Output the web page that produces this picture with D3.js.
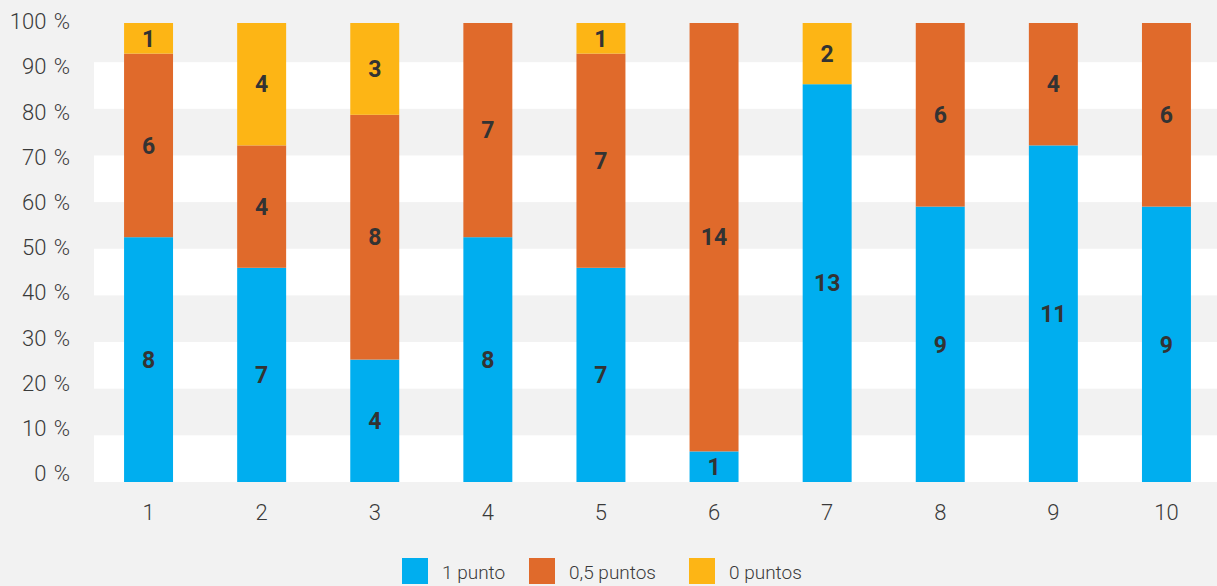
<!DOCTYPE html>
<html>
<head>
<meta charset="utf-8">
<script src="https://cdn.jsdelivr.net/npm/d3@7"></script>
<style>
  body { margin: 0; background: #f2f2f2; }
  svg { display: block; }
</style>
</head>
<body>
<div id="chart"></div>
<script>
// categories and counts per bar (each bar totals 15)
var categories = ["1", "2", "3", "4", "5", "6", "7", "8", "9", "10"];
var series = ["1 punto", "0,5 puntos", "0 puntos"];
var onePoint = [8, 7, 4, 8, 7, 1, 13, 9, 11, 9];
var halfPoint = [6, 4, 8, 7, 7, 14, 0, 6, 4, 6];
var zeroPoint = [1, 4, 3, 0, 1, 0, 2, 0, 0, 0];
var yTicks = [0, 10, 20, 30, 40, 50, 60, 70, 80, 90, 100];
var colors = ["#00aeef", "#e06a2b", "#fdb515"];

var width = 1217;
var height = 586;

var svg = d3.select("#chart")
  .append("svg")
  .attr("width", width)
  .attr("height", height);

// convert counts to percentage stacks
var rows = categories.map(function (c, i) {
  var total = onePoint[i] + halfPoint[i] + zeroPoint[i];
  return {
    cat: c,
    "1 punto": onePoint[i] / total * 100,
    "0,5 puntos": halfPoint[i] / total * 100,
    "0 puntos": zeroPoint[i] / total * 100,
    counts: [onePoint[i], halfPoint[i], zeroPoint[i]]
  };
});

var stacked = d3.stack().keys(series)(rows);

var xScale = d3.scaleBand()
  .domain(categories)
  .range([92, 1223])
  .paddingInner(0.567)
  .paddingOuter(0.2835);

// scale for the bars
var yScale = d3.scaleLinear()
  .domain([0, 100])
  .range([482, 23]);

// the background bands and the tick labels sit on slightly different scales in the original
var gridScale = d3.scaleLinear()
  .domain([0, 100])
  .range([482, 15.5]);

var labelScale = d3.scaleLinear()
  .domain([0, 100])
  .range([473, 21]);

// white bands between alternate gridlines
svg.selectAll("rect.band")
  .data(yTicks.filter(function (t) { return t < 100 && t % 20 === 0; }))
  .enter()
  .append("rect")
  .attr("class", "band")
  .attr("x", 94)
  .attr("width", width - 94)
  .attr("y", function (d) { return gridScale(d + 10); })
  .attr("height", function (d) { return gridScale(d) - gridScale(d + 10); })
  .attr("fill", "#ffffff");

// y axis
var yAxis = svg.append("g")
  .attr("transform", "translate(70,0)")
  .call(d3.axisLeft(labelScale).tickValues(yTicks).tickSize(0).tickPadding(0)
    .tickFormat(function (d) { return d + " %"; }));
yAxis.select(".domain").remove();
yAxis.selectAll("text")
  .attr("font-family", "Roboto, sans-serif")
  .attr("font-size", 22)
  .attr("font-weight", 300)
  .attr("fill", "#3a3a3a")
  .attr("word-spacing", 2)
  .attr("dy", "0.35em");

// x axis
var xAxis = svg.append("g")
  .attr("transform", "translate(0,504)")
  .call(d3.axisBottom(xScale).tickSize(0).tickPadding(0));
xAxis.select(".domain").remove();
xAxis.selectAll("text")
  .attr("font-family", "Roboto, sans-serif")
  .attr("font-size", 22)
  .attr("font-weight", 300)
  .attr("fill", "#3a3a3a")
  .attr("dy", "0.71em");

// bars
var layers = svg.selectAll("g.layer")
  .data(stacked)
  .enter()
  .append("g")
  .attr("class", "layer")
  .attr("fill", function (d, i) { return colors[i]; });

layers.selectAll("rect")
  .data(function (d) { return d; })
  .enter()
  .append("rect")
  .attr("x", function (d) { return xScale(d.data.cat); })
  .attr("y", function (d) { return yScale(d[1]); })
  .attr("width", xScale.bandwidth())
  .attr("height", function (d) { return yScale(d[0]) - yScale(d[1]); });

// value labels in the middle of each segment
stacked.forEach(function (layer, si) {
  svg.append("g")
    .selectAll("text")
    .data(layer.filter(function (d) { return d.data.counts[si] > 0; }))
    .enter()
    .append("text")
    .text(function (d) { return d.data.counts[si]; })
    .attr("x", function (d) { return xScale(d.data.cat) + xScale.bandwidth() / 2; })
    .attr("y", function (d) { return yScale((d[0] + d[1]) / 2); })
    .attr("dy", "0.36em")
    .attr("text-anchor", "middle")
    .attr("font-family", "Roboto, sans-serif")
    .attr("font-size", 23)
    .attr("font-weight", 700)
    .attr("fill", "#333333");
});

// legend
var legendX = [402, 529, 689];
var legend = svg.selectAll("g.legend")
  .data(series)
  .enter()
  .append("g")
  .attr("class", "legend")
  .attr("transform", function (d, i) { return "translate(" + legendX[i] + ",558)"; });

legend.append("rect")
  .attr("width", 26)
  .attr("height", 26)
  .attr("fill", function (d, i) { return colors[i]; });

legend.append("text")
  .text(function (d) { return d; })
  .attr("x", 40)
  .attr("y", 14)
  .attr("dy", "0.35em")
  .attr("font-family", "Roboto, sans-serif")
  .attr("font-size", 19)
  .attr("font-weight", 300)
  .attr("fill", "#3a3a3a");
</script>
</body>
</html>
